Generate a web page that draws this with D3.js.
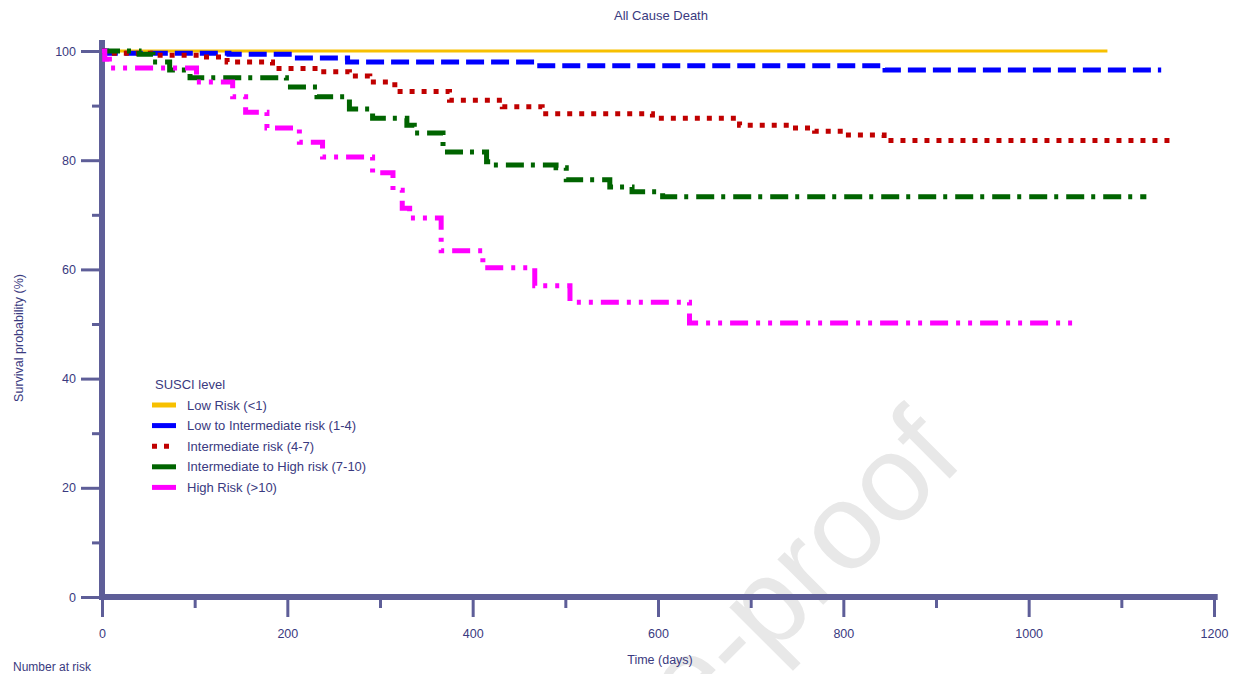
<!DOCTYPE html>
<html>
<head>
<meta charset="utf-8">
<script src="https://cdn.jsdelivr.net/npm/d3@7"></script>
<style>
  body { margin: 0; background: #fff; }
  svg { display: block; font-family: Arial, "Liberation Sans", sans-serif; }
</style>
</head>
<body>
<div id="chart"></div>
<script>
// Kaplan-Meier steps: time (days) and survival (%)
const lowT = [0];
const lowS = [100];
const lowEnd = 1085;

const lowIntT = [0, 5, 137, 205, 265, 467, 845];
const lowIntS = [100, 99.6, 99.4, 98.7, 98.0, 97.3, 96.5];
const lowIntEnd = 1143;

const intT = [0, 8, 60, 105, 135, 184, 235, 267, 289, 316, 375, 432, 475, 594, 688, 742, 769, 801, 844];
const intS = [100, 99.6, 99.2, 98.9, 98.0, 96.8, 96.2, 95.4, 94.3, 92.6, 91.0, 89.8, 88.5, 87.7, 86.4, 85.9, 85.3, 84.6, 83.6];
const intEnd = 1159;

const intHighT = [0, 40, 55, 73, 95, 199, 232, 267, 292, 329, 337, 368, 415, 421, 490, 501, 548, 572, 605];
const intHighS = [100, 99.4, 98.0, 96.5, 95.1, 93.4, 91.6, 89.4, 87.7, 86.4, 85.0, 81.5, 79.7, 79.1, 78.6, 76.4, 75.1, 74.2, 73.3];
const intHighEnd = 1127;

const highT = [0, 3, 8, 102, 141, 155, 178, 213, 238, 292, 314, 324, 332, 366, 411, 467, 505, 634];
const highS = [100, 98.5, 96.9, 94.3, 91.6, 88.8, 85.9, 83.3, 80.6, 77.7, 74.5, 71.2, 69.4, 63.4, 60.3, 57.0, 54.0, 50.2];
const highEnd = 1047;

const seriesNames = ['Low Risk (<1)', 'Low to Intermediate risk (1-4)', 'Intermediate risk (4-7)',
  'Intermediate to High risk (7-10)', 'High Risk (>10)'];
const seriesColors = ['#f7c000', '#0000ff', '#c00000', '#006400', '#ff00ff'];

const xMajor = [0, 200, 400, 600, 800, 1000, 1200];
const xMinor = [100, 300, 500, 700, 900, 1100];
const yMajor = [0, 20, 40, 60, 80, 100];
const yMinor = [10, 30, 50, 70, 90];

const width = 1246, height = 674;
const axisColor = '#5e5e98';
const textColor = '#3a3a80';

const svg = d3.select('#chart').append('svg')
  .attr('width', width)
  .attr('height', height);

// watermark
svg.append('text')
  .attr('transform', 'translate(966,462) rotate(-45)')
  .attr('text-anchor', 'end')
  .attr('font-size', 122)
  .attr('fill', '#e8e8e8')
  .text('Journal Pre-proof');

const x = d3.scaleLinear().domain([0, 1200]).range([102, 1214]);
const y = d3.scaleLinear().domain([0, 100]).range([597, 51]);

// axes
const yAxisMinor = d3.axisLeft(y).tickValues(yMinor).tickSize(10).tickFormat('');
const yAxisMajor = d3.axisLeft(y).tickValues(yMajor).tickSize(21).tickPadding(5).tickFormat(d3.format('d'));
const xAxisMinor = d3.axisBottom(x).tickValues(xMinor).tickSize(11).tickFormat('');
const xAxisMajor = d3.axisBottom(x).tickValues(xMajor).tickSize(20).tickPadding(12).tickFormat(d3.format('d'));

function styleAxis(g) {
  g.select('.domain').remove();
  g.selectAll('.tick line').attr('stroke', axisColor).attr('stroke-width', 3);
  g.selectAll('.tick text').attr('fill', textColor).attr('font-size', 12.5)
    .attr('font-family', 'Arial, "Liberation Sans", sans-serif');
}

svg.append('g').attr('transform', 'translate(' + x(0) + ',0)').call(yAxisMinor).call(styleAxis);
svg.append('g').attr('transform', 'translate(' + x(0) + ',0)').call(yAxisMajor).call(styleAxis);
svg.append('g').attr('transform', 'translate(0,' + y(0) + ')').call(xAxisMinor).call(styleAxis);
svg.append('g').attr('transform', 'translate(0,' + y(0) + ')').call(xAxisMajor).call(styleAxis);

svg.append('line')
  .attr('x1', x(0)).attr('x2', x(0))
  .attr('y1', y(102)).attr('y2', y(0) + 2)
  .attr('stroke', axisColor).attr('stroke-width', 6);
svg.append('line')
  .attr('x1', x(0) - 3).attr('x2', x(1204))
  .attr('y1', y(0)).attr('y2', y(0))
  .attr('stroke', axisColor).attr('stroke-width', 6);

// curves
function steps(t, s, end) {
  const pts = t.map((d, i) => [d, s[i]]);
  pts.push([end, s[s.length - 1]]);
  return pts;
}

const series = [
  { pts: steps(lowT, lowS, lowEnd), width: 3, dash: null },
  { pts: steps(lowIntT, lowIntS, lowIntEnd), width: 5, dash: '18,7' },
  { pts: steps(intT, intS, intEnd), width: 5, dash: '5,7' },
  { pts: steps(intHighT, intHighS, intHighEnd), width: 5, dash: '18,7,4,8' },
  { pts: steps(highT, highS, highEnd), width: 5, dash: '18,8,4,8,4,8' }
];

const line = d3.line()
  .x(d => x(d[0]))
  .y(d => y(d[1]))
  .curve(d3.curveStepAfter);

svg.append('g').selectAll('path')
  .data(series)
  .enter().append('path')
  .attr('d', d => line(d.pts))
  .attr('fill', 'none')
  .attr('stroke', (d, i) => seriesColors[i])
  .attr('stroke-width', d => d.width)
  .attr('stroke-dasharray', d => d.dash);

// legend
const legend = svg.append('g').attr('transform', 'translate(152,385)');
legend.append('text')
  .attr('x', 3).attr('y', 4)
  .attr('font-size', 13).attr('fill', textColor)
  .text('SUSCI level');

const item = legend.selectAll('.item')
  .data(seriesNames)
  .enter().append('g')
  .attr('class', 'item')
  .attr('transform', (d, i) => 'translate(0,' + (20 + i * 20.6) + ')');

item.append('line')
  .attr('x1', 0).attr('x2', 24)
  .attr('stroke', (d, i) => seriesColors[i])
  .attr('stroke-width', 5)
  .attr('stroke-dasharray', (d, i) => i === 2 ? '5,7' : null);

item.append('text')
  .attr('x', 35).attr('y', 4.5)
  .attr('font-size', 13).attr('fill', textColor)
  .text(d => d);

// titles
svg.append('text')
  .attr('x', 661).attr('y', 20)
  .attr('text-anchor', 'middle')
  .attr('font-size', 13).attr('fill', textColor)
  .text('All Cause Death');

svg.append('text')
  .attr('transform', 'translate(23,338) rotate(-90)')
  .attr('text-anchor', 'middle')
  .attr('font-size', 12.5).attr('fill', textColor)
  .text('Survival probability (%)');

svg.append('text')
  .attr('x', 660).attr('y', 664)
  .attr('text-anchor', 'middle')
  .attr('font-size', 12.5).attr('fill', textColor)
  .text('Time (days)');

svg.append('text')
  .attr('x', 13).attr('y', 671)
  .attr('font-size', 12).attr('fill', textColor)
  .text('Number at risk');
</script>
</body>
</html>
